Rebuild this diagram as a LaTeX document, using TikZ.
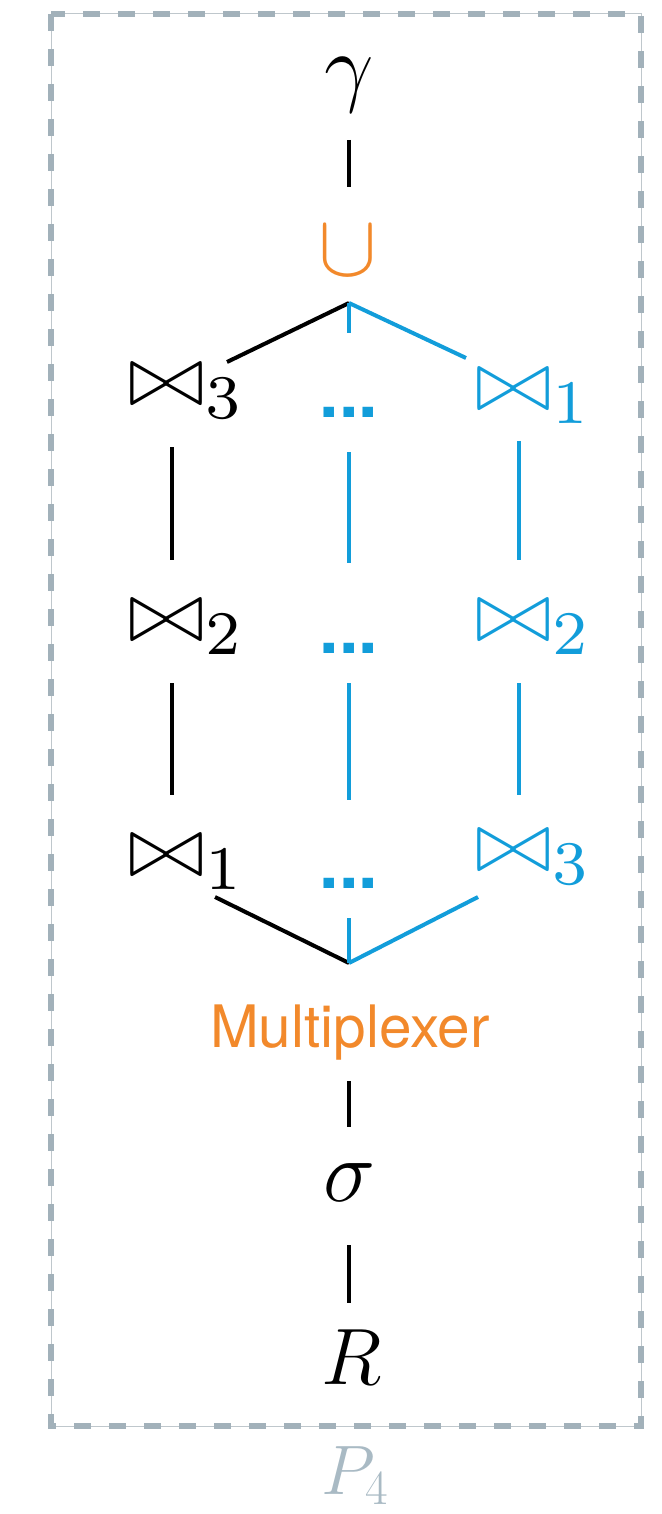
\documentclass[tikz,border=0pt]{standalone}
\usepackage{fix-cm}
\usepackage{fontspec}
\newfontfamily\heros{TeX Gyre Heros}
\newfontfamily\smallroman{lmroman7-regular.otf}
\usetikzlibrary{calc}

\definecolor{joinblue}{HTML}{129DDA}
\definecolor{unionorange}{HTML}{F2892B}
\definecolor{frameGrey}{HTML}{A2B1BA}
\definecolor{frameThin}{HTML}{BFC7CC}
\definecolor{labelGrey}{HTML}{A9BAC4}

% join symbol: two triangles meeting at their tips
\newcommand{\joinop}{\mathrel{\triangleright\mkern-2mu\triangleleft}}
% join with an index set in the small-size cut of the roman face
\newcommand{\joinidx}[1]{\joinop_{\mbox{\fontsize{31}{31}\smallroman #1}}}

\tikzset{
  op/.style={inner sep=0pt, anchor=base, font=\fontsize{44}{52}\selectfont},
  dotsnode/.style={inner sep=0pt, anchor=base, text=joinblue,
    font=\heros\bfseries\fontsize{35}{40}\selectfont},
  edge/.style={line width=2pt, line cap=butt},
  blueedge/.style={edge, draw=joinblue},
}

\begin{document}
\begin{tikzpicture}[x=0.5pt, y=-0.5pt]
  \useasboundingbox (0,0) rectangle (662,1514);

  % plan frame: thin rule with heavy dashes on top
  \draw[frameThin, line width=0.5pt] (51,14) rectangle (641,1426);
  \draw[frameGrey, line width=3pt, dash pattern=on 8.5pt off 9pt] (51,14) rectangle (641,1426);
  \node[op, text=labelGrey, font=\fontsize{35}{42}\selectfont] (plan) at (355,1494) {$P_4$};

  % operators
  \node[op] (gamma) at (349,96) {$\gamma$};
  \node[op, text=unionorange] (cup) at (348,275) {$\cup$};

  \node[op] (jA3) at (185,405) {$\joinidx{3}$};
  \node[op] (jA2) at (185,641) {$\joinidx{2}$};
  \node[op] (jA1) at (185,876) {$\joinidx{1}$};

  \node[dotsnode] (dA) at (349,417) {...};
  \node[dotsnode] (dB) at (349,653) {...};
  \node[dotsnode] (dC) at (349,888) {...};

  \node[op, text=joinblue] (jB1) at (532,410) {$\joinidx{1}$};
  \node[op, text=joinblue] (jB2) at (532,641) {$\joinidx{2}$};
  \node[op, text=joinblue] (jB3) at (532,871) {$\joinidx{3}$};

  \node[inner sep=0pt, anchor=base, text=unionorange,
        font=\heros\fontsize{29.25}{34}\selectfont] (mux) at (350,1047) {Multiplexer};
  \node[op] (sigma) at (350,1201) {$\sigma$};
  \node[op, font=\fontsize{40}{48}\selectfont] (rel) at (352,1384) {$R$};

  % branch points
  \coordinate (top) at (349,303);
  \coordinate (bot) at (349,963);

  % black plan
  \draw[edge] ($(gamma.base)+(0,44)$) -- ($(cup.base)+(1,-88)$);
  \draw[edge] (top) -- ($(jA3.base)+(42,-43)$);
  \draw[edge] ($(jA3.base)+(-13,42)$) -- ($(jA2.base)+(-13,-81)$);
  \draw[edge] ($(jA2.base)+(-13,42)$) -- ($(jA1.base)+(-13,-81)$);
  \draw[edge] ($(jA1.base)+(30,21)$) -- (bot);
  \draw[edge] ($(mux.base)+(-1,34)$) -- ($(sigma.base)+(-1,-74)$);
  \draw[edge] ($(sigma.base)+(-1,44)$) -- ($(rel.base)+(-3,-81)$);

  % alternative plans
  \draw[blueedge] (top) -- ($(jB1.base)+(-66,-52)$);
  \draw[blueedge] (top) -- ($(dA.base)+(0,-84)$);
  \draw[blueedge] ($(dA.base)+(0,35)$) -- ($(dB.base)+(0,-90)$);
  \draw[blueedge] ($(dB.base)+(0,30)$) -- ($(dC.base)+(0,-88)$);
  \draw[blueedge] ($(dC.base)+(0,30)$) -- (bot);
  \draw[blueedge] ($(jB1.base)+(-13,31)$) -- ($(jB2.base)+(-13,-81)$);
  \draw[blueedge] ($(jB2.base)+(-13,42)$) -- ($(jB3.base)+(-13,-76)$);
  \draw[blueedge] ($(jB3.base)+(-54,26)$) -- (bot);
\end{tikzpicture}
\end{document}
